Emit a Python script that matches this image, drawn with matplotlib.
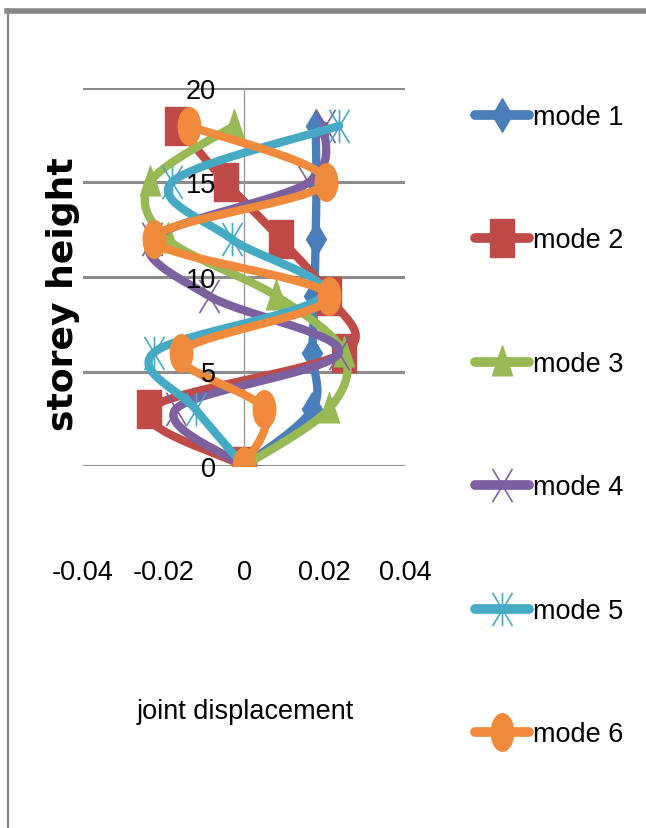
import numpy as np
import matplotlib
matplotlib.use("Agg")
import matplotlib.pyplot as plt
from matplotlib.path import Path
from matplotlib.transforms import Affine2D
from matplotlib.lines import Line2D
from matplotlib.ticker import FuncFormatter

# storey levels and mode shapes (joint displacement per level)
storey = [0, 3, 6, 9, 12, 15, 18]
mode1 = [0, 0.017, 0.017, 0.0175, 0.0178, 0.018, 0.0178]
mode2 = [0, -0.0236, 0.0248, 0.021, 0.0091, -0.0045, -0.0166]
mode3 = [0, 0.021, 0.0248, 0.008, -0.019, -0.0234, -0.0025]
mode4 = [0, -0.017, 0.0236, -0.0087, -0.0228, 0.016, 0.020]
mode5 = [0, -0.012, -0.0224, 0.0195, -0.003, -0.018, 0.0236]
mode6 = [0, 0.005, -0.0157, 0.0211, -0.0224, 0.0203, -0.0137]
labels = ["mode 1", "mode 2", "mode 3", "mode 4", "mode 5", "mode 6"]
xticks = [-0.04, -0.02, 0, 0.02, 0.04]
yticks = [0, 5, 10, 15, 20]

colors = ["#4A7EBB", "#BE4B48", "#98B954", "#7D60A0", "#46AAC5", "#F08A3C"]

plt.rcParams["font.family"] = ["Liberation Sans", "DejaVu Sans"]
FS = 19.5


# excel-like marker shapes, squashed sideways (the picture is stretched tall)
def squash(p, a=0.6):
    return p.transformed(Affine2D().scale(a, 1))

m_diamond = squash(Path([(0, -1), (1, 0), (0, 1), (-1, 0), (0, -1)], closed=True))
m_square = squash(Path([(-1, -1), (1, -1), (1, 1), (-1, 1), (-1, -1)], closed=True))
m_tri = squash(Path([(-1, -0.8), (1, -0.8), (0, 1), (-1, -0.8)], closed=True))
m_x = squash(Path([(-1, -1), (1, 1), (-1, 1), (1, -1)], [1, 2, 1, 2]))
m_star = squash(Path([(-1, -1), (1, 1), (-1, 1), (1, -1), (0, -1), (0, 1)], [1, 2, 1, 2, 1, 2]))
m_circ = squash(Path.unit_circle())

styles = [
    dict(marker=m_diamond, ms=24),
    dict(marker=m_square, ms=28),
    dict(marker=m_tri, ms=24),
    dict(marker=m_x, ms=24, mfc="none", mew=1.2),
    dict(marker=m_star, ms=24, mfc="none", mew=1.2),
    dict(marker=m_circ, ms=27),
]


def smooth(xs, ys, n=30):
    # catmull-rom, roughly what excel's "smoothed line" does
    p = np.column_stack([xs, ys]).astype(float)
    p = np.vstack([p[0], p, p[-1]])
    out = []
    t = np.linspace(0, 1, n)[:, None]
    for i in range(1, len(p) - 2):
        p0, p1, p2, p3 = p[i - 1], p[i], p[i + 1], p[i + 2]
        c1 = p1 + (p2 - p0) / 6
        c2 = p2 - (p3 - p1) / 6
        seg = (1 - t) ** 3 * p1 + 3 * (1 - t) ** 2 * t * c1 + 3 * (1 - t) * t ** 2 * c2 + t ** 3 * p2
        out.append(seg if i == 1 else seg[1:])
    s = np.vstack(out)
    return s[:, 0], s[:, 1]


fig = plt.figure(figsize=(6.46, 8.29), dpi=100)
ax = fig.add_axes([83 / 646, 1 - 467 / 829, 322 / 646, 378 / 829])

for y in yticks:
    ax.axhline(y, color="#8C8C8C", lw=2.2, zorder=0.5)

modes = [mode1, mode2, mode3, mode4, mode5, mode6]
handles = []
for i, (m, c, st) in enumerate(zip(modes, colors, styles)):
    sx, sy = smooth(m, storey)
    z = 2 + i * 0.1
    ax.plot(sx, sy, color=c, lw=6, solid_capstyle="round", zorder=z)
    st = dict(st)
    mfc = st.pop("mfc", c)
    mew = st.pop("mew", 1)
    ax.plot(m, storey, ls="none", color=c, mfc=mfc, mec=c, mew=mew,
            zorder=z + 0.05, **st)
    handles.append(Line2D([], [], color=c, lw=7, solid_capstyle="round",
                          mfc=mfc, mec=c, mew=mew, **st))

ax.set_xlim(-0.04, 0.04)
ax.set_ylim(0, 20)
ax.set_xticks(xticks)
ax.set_yticks(yticks)
ax.xaxis.set_major_formatter(FuncFormatter(lambda v, p: "0" if v == 0 else f"{v:g}"))
ax.tick_params(axis="x", length=0, pad=67, labelsize=FS)
ax.tick_params(axis="y", length=0, pad=20, labelsize=FS)
ax.yaxis.set_zorder(10)

for s in ["top", "right", "bottom"]:
    ax.spines[s].set_visible(False)
ax.spines["left"].set_position(("data", 0))
ax.spines["left"].set_color("#9A9A9A")
ax.spines["left"].set_linewidth(1)
ax.spines["left"].set_zorder(0.6)
ax.patch.set_alpha(0)

fig.text(63 / 646, 1 - 294 / 829, "storey height", rotation=90, ha="center", va="center",
         fontsize=26, fontweight="bold", family="DejaVu Sans")
fig.text(245 / 646, 1 - 712 / 829, "joint displacement", ha="center", va="center", fontsize=FS)

fig.legend(handles, labels, loc="upper left", bbox_to_anchor=(475 / 646, 1 - 105 / 829),
           frameon=False, fontsize=FS, handlelength=2.0, handletextpad=0.15,
           labelspacing=3.6, borderaxespad=0, borderpad=0)

# chart border fragments (top and left edge of the excel chart frame)
fig.add_artist(Line2D([7 / 646, 1], [1 - 12 / 829, 1 - 12 / 829], color="#878787", lw=4))
fig.add_artist(Line2D([8 / 646, 8 / 646], [0, 1 - 10 / 829], color="#8A8A8A", lw=1.6))

fig.savefig("out.png", dpi=100)
